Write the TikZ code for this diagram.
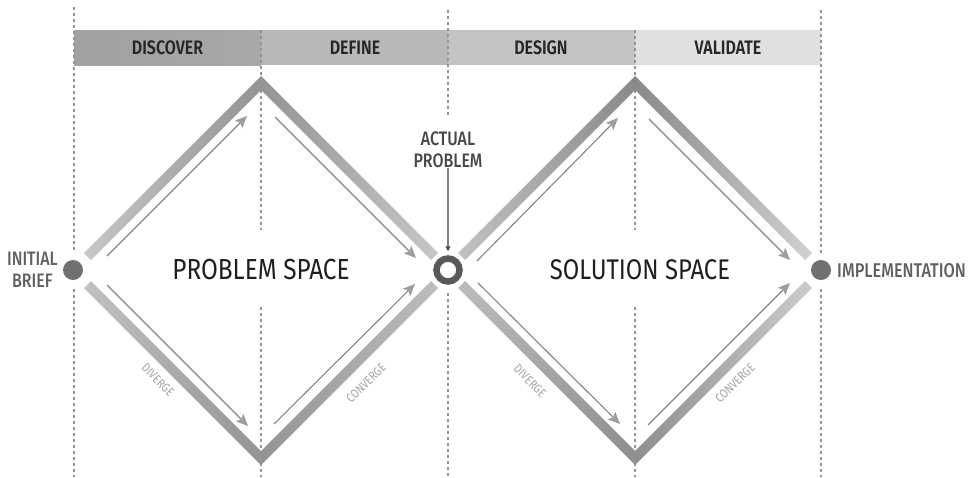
\documentclass[tikz,border=0pt]{standalone}
\usepackage{fontspec}
\usetikzlibrary{arrows.meta}
\setmainfont{Fira Sans}[FakeStretch=0.84]
\newfontfamily\medf{Fira Sans SemiBold}[FakeStretch=0.82]
\newfontfamily\midf{Fira Sans Medium}[FakeStretch=0.82]
\tikzset{
  guide/.style={draw=black!42,line width=1.1pt,dash pattern=on 2.5pt off 3.5pt},
  flow/.style={draw=black!48,line width=1.1pt,-{Stealth[length=12pt,width=10.5pt,inset=2.5pt,color=black!38]}},
  phase/.style={font=\medf\fontsize{19.5}{19.5}\selectfont,text=black!85,inner sep=0pt},
  space/.style={font=\fontsize{29}{30}\selectfont,text=black!88,inner sep=0pt},
  side/.style={font=\midf\fontsize{19.5}{21.5}\selectfont,text=black!62,align=center,inner sep=0pt},
  tiny/.style={font=\fontsize{12.5}{13}\selectfont,text=black!36,inner sep=0pt},
  dotn/.style={circle,fill=black!56,minimum size=20pt,inner sep=0pt}
}
\newcommand{\band}[6]{\shade[left color=#5,right color=#6] #1 -- #2 -- #3 -- #4 -- cycle;}
\begin{document}
\begin{tikzpicture}[x=1pt,y=-1pt]
\useasboundingbox (0,0) rectangle (968,477);
% header
\shade[left color=black!37,right color=black!34] (74,30) rectangle (261,65);
\fill[black!28] (261,30) rectangle (448,65);
\fill[black!23] (448,30) rectangle (635,65);
\fill[black!12] (635,30) rectangle (821,65);
\node[phase] (discover) at (167.5,47.5) {DISCOVER};
\node[phase] (define) at (355,47.5) {DEFINE};
\node[phase] (design) at (541,47.5) {DESIGN};
\node[phase] (validate) at (728,47.5) {VALIDATE};
% guides
\foreach \a/\b/\c in {74/7/253, 74/289/477, 261/30/230, 261/307/477, 448/10/117, 448/293/477, 635/30/230, 635/307/477, 821/10/253, 821/289/477}
  \draw[guide] (\a,\b) -- (\a,\c);
% bands left diamond
\band{(84,253)}{(261,76)}{(261,90)}{(91,260)}{black!22}{black!42}
\band{(261,76)}{(438,253)}{(431,260)}{(261,90)}{black!42}{black!22}
\band{(84,288)}{(261,465)}{(261,451)}{(91,281)}{black!24}{black!42}
\band{(261,465)}{(438,288)}{(431,281)}{(261,451)}{black!42}{black!26}
% bands right diamond
\band{(458,253)}{(635,76)}{(635,90)}{(465,260)}{black!24}{black!46}
\band{(635,76)}{(812,253)}{(805,260)}{(635,90)}{black!46}{black!18}
\band{(458,288)}{(635,465)}{(635,451)}{(465,281)}{black!26}{black!44}
\band{(635,465)}{(812,288)}{(805,281)}{(635,451)}{black!44}{black!20}
% nodes
\node[dotn] (start) at (73,270) {};
\node[dotn] (finish) at (821,270) {};
\node[circle,draw=black!65,line width=6.5pt,fill=white,minimum size=23pt,inner sep=0pt] (ring) at (448,270) {};
\node[side,anchor=east] (brief) at (58,270) {INITIAL\\BRIEF};
\node[side,anchor=west,font=\midf\fontsize{19.9}{21.5}\selectfont] (impl) at (837,271) {IMPLEMENTATION};
\node[side,text=black!72] (actual) at (448,150) {ACTUAL\\PROBLEM};
\draw[draw=black!50,line width=1.2pt,shorten >=4pt,-{Triangle[length=5pt,width=5pt,color=black!70]}] (actual) -- (ring);
\node[space] (ps) at (261,270) {PROBLEM SPACE};
\node[space,font=\fontsize{28.4}{30}\selectfont] (ss) at (640,270) {SOLUTION SPACE};
% flow arrows
\foreach \n/\x/\y in {a/107/256,b/247/116,c/275/117,d/416/258,e/107/285,f/248/426,g/274/424,h/415/284,i/477/261,j/618/118,k/649/119,l/790/260,m/478/283,n/620/424,o/648/425,p/790/283}
  \coordinate (\n) at (\x,\y);
\draw[flow] (a) -- (b);
\draw[flow] (c) -- (d);
\draw[flow] (e) -- (f);
\draw[flow] (g) -- (h);
\draw[flow] (i) -- (j);
\draw[flow] (k) -- (l);
\draw[flow] (m) -- (n);
\draw[flow] (o) -- (p);
% small labels
\node[tiny,rotate=-45] (div1) at (158,380) {DIVERGE};
\node[tiny,rotate=45] (con1) at (366,383) {CONVERGE};
\node[tiny,rotate=-45] (div2) at (530,381) {DIVERGE};
\node[tiny,rotate=45] (con2) at (735,383) {CONVERGE};
\end{tikzpicture}
\end{document}
